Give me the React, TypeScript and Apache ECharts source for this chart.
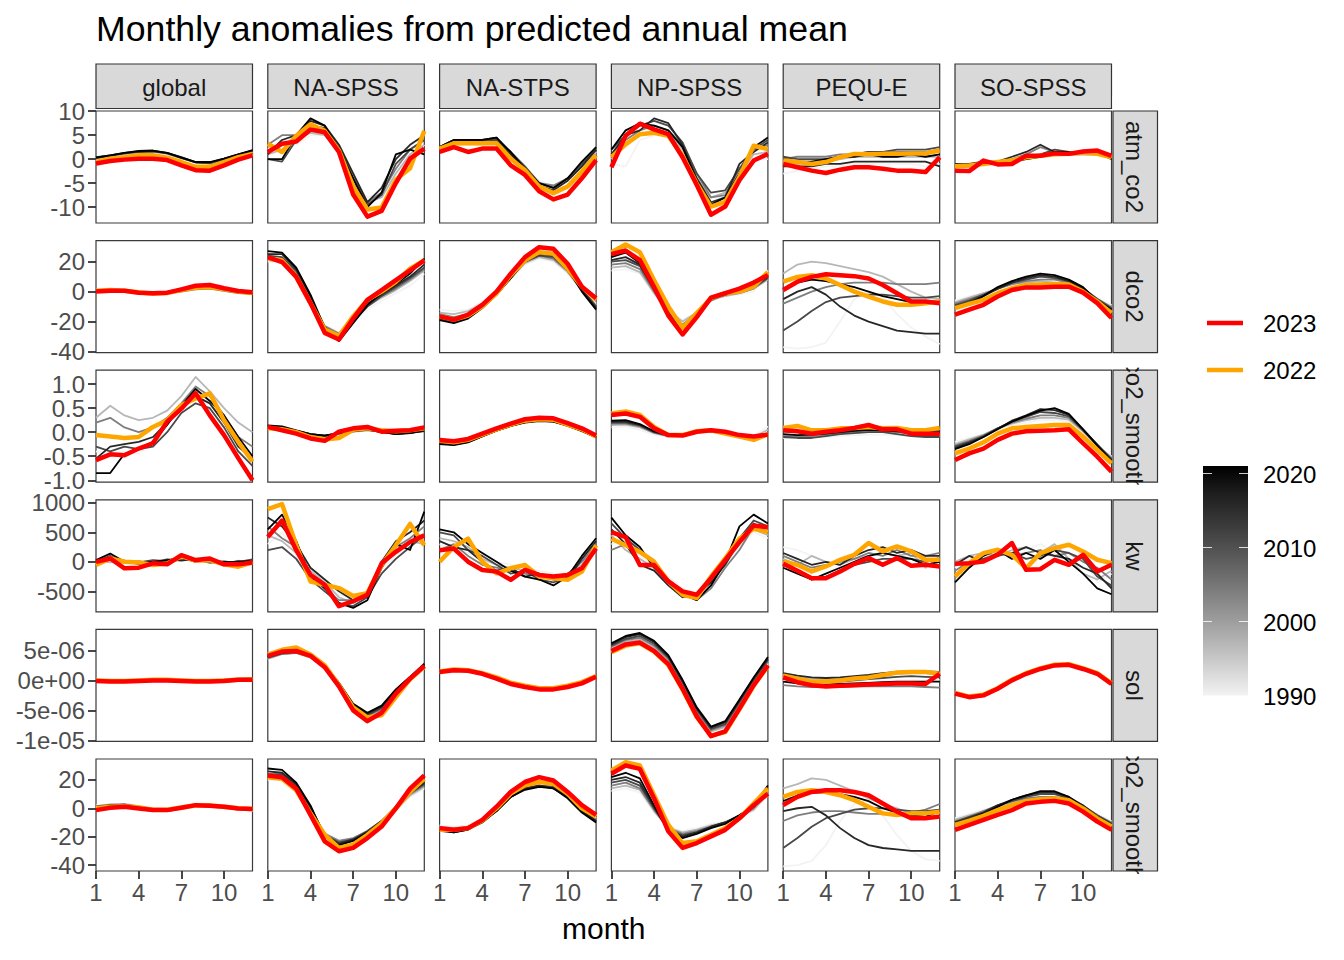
import React, { useEffect, useRef } from "react";
import * as echarts from "echarts";

// ---------------- data ----------------
const months = [1, 2, 3, 4, 5, 6, 7, 8, 9, 10, 11, 12];
const regions = ["global", "NA-SPSS", "NA-STPS", "NP-SPSS", "PEQU-E", "SO-SPSS"];
const variables = ["atm_co2", "dco2", "co2_smooth", "kw", "sol", "co2_smooth"];
// every panel array below holds one line per year, in this order
const lineYears = [1990, 1997, 2004, 2011, 2016, 2021, 2022, 2023];
const legendYears = [2023, 2022];
const colorbarTicks = [2020, 2010, 2000, 1990];
const xTicks = [1, 4, 7, 10];
const yTicksAtm = [-10, -5, 0, 5, 10];
const yTicksDco2 = [-40, -20, 0, 20];
const yTicksSmooth = [-1, -0.5, 0, 0.5, 1];
const yTicksKw = [-500, 0, 500, 1000];
const yTicksSol = [-1e-5, -5e-6, 0, 5e-6];
const yTicksSmooth2 = [-40, -20, 0, 20];

// row 1: atm_co2
const atm_global = [
  [0.2, 0.7, 1.1, 1.4, 1.5, 1.1, 0.2, -0.7, -0.8, -0.1, 0.8, 1.5],
  [0.1, 0.6, 1.0, 1.4, 1.5, 1.1, 0.2, -0.7, -0.9, -0.2, 0.8, 1.6],
  [0.3, 0.8, 1.2, 1.5, 1.6, 1.2, 0.3, -0.6, -0.8, -0.1, 0.9, 1.7],
  [0.2, 0.7, 1.2, 1.5, 1.7, 1.2, 0.2, -0.7, -0.9, 0.0, 0.9, 1.7],
  [0.4, 0.8, 1.3, 1.6, 1.7, 1.3, 0.4, -0.6, -0.7, 0.1, 1.0, 1.8],
  [0.3, 0.8, 1.3, 1.7, 1.8, 1.3, 0.3, -0.6, -0.6, 0.1, 1.0, 1.9],
  [-0.6, 0.1, 0.4, 0.8, 0.8, 0.3, -0.6, -1.6, -1.6, -0.6, 0.4, 1.1],
  [-0.9, -0.4, -0.1, 0.1, 0.1, -0.2, -1.3, -2.3, -2.4, -1.3, -0.1, 0.8],
];
const atm_naspss = [
  [2, 4, 3, 5, 5, 1, -5, -8, -7, -4, 0, 3],
  [1, 2, 4, 5.5, 5, 1.5, -5, -9, -8, -3, 1, 3],
  [3, 5, 5, 6, 6, 2, -4, -9, -7, -2, 2, 4],
  [0, -0.5, 4, 7, 6.5, 2.5, -4, -9.5, -7.5, -1, 2, 4],
  [1, 4, 5, 8, 7, 3, -3, -9, -6, 0, 3, 5],
  [0, 0, 5, 8.5, 7, 2, -4, -10, -7, 1, 2, 1],
  [3.2, 1.5, 4.9, 7.3, 5.9, 1.8, -5.7, -10.5, -10.1, -4.3, -1.9, 5.9],
  [1.5, 3.2, 3.7, 6.2, 5.6, 1.5, -7.4, -12.0, -10.8, -5.0, 0.1, 2.2],
];
const atm_nastps = [
  [2, 3, 3, 3, 3.5, 1, -2, -4.5, -5.5, -4, -1, 1.5],
  [2.5, 3.5, 3.5, 3.5, 3.5, 1, -2, -5, -6, -4.5, -1.5, 1.5],
  [2, 3.5, 3.5, 4, 4, 1, -2, -5, -5.5, -4, -1, 2],
  [2.5, 4, 4, 4, 4, 1.5, -1.5, -5, -6, -4, -1, 2],
  [2.5, 4, 4, 4, 4.5, 1, -2, -5.5, -6.5, -4.5, -1.5, 2],
  [2.5, 4, 4, 4, 4.5, 1.5, -2, -5, -6, -4, -0.5, 2.5],
  [2.2, 3.3, 3.3, 3.3, 3.3, 0.1, -2.3, -5.7, -7.1, -5.7, -2.6, 0.8],
  [1.5, 2.5, 1.5, 2.2, 2.2, -1.3, -3.3, -6.7, -8.4, -7.4, -4.0, -0.2],
];
const atm_npspss = [
  [-1, -1.5, 4, 5, 5, 1, -5, -8, -8, -4, 0, 0],
  [0, 3, 5, 6, 5.5, 2, -4, -8, -7, -3, 1, 1.5],
  [1, 4, 6, 7, 6, 3, -3, -8, -7.5, -2, 2, 3],
  [2, 5, 7, 8, 7, 3.5, -3, -7, -6.5, -2, 2, 4],
  [1, 5, 6, 8.5, 7.5, 3, -4, -9, -8, -1, 1.5, 3.5],
  [2, 6, 7.5, 7, 6, 2.5, -4.5, -9.5, -8, -3, 2.5, 4.5],
  [0.4, 3.1, 5.2, 5.5, 4.9, 0.7, -5.1, -9.9, -8.9, -3.7, 2.8, 2.1],
  [-1.7, 4.9, 7.4, 6.2, 5.2, 0.4, -5.4, -11.6, -9.9, -4.4, -0.3, 1.1],
];
const atm_pequ = [
  [-3, -2.5, -2, -1.5, -1.5, -1, -1, -1, -1, -1, -1.5, -1],
  [-1, -1, -0.5, -0.5, 0, 0.5, 0.5, 0.5, 0.5, 0.5, 0.5, 0.5],
  [0, 0.5, 0.5, 0.5, 1, 1, 1.5, 1.5, 1.5, 1.5, 1.5, 2],
  [0.5, 0, 0, 0, 0.5, 1, 1.5, 1.5, 2, 2, 2, 2.5],
  [-1.5, -1.5, -1.5, -1, -1, -0.5, -0.5, -0.5, -0.5, -0.5, -0.5, -1.5],
  [0, -0.5, -0.5, 0, 0.5, 0.5, 1, 0.5, 0.5, 1, 0.5, 1],
  [-0.3, -0.6, -1.0, -0.6, 0.4, 1.1, 1.0, 1.1, 1.1, 1.2, 1.2, 1.8],
  [-1.0, -1.7, -2.4, -2.9, -2.2, -1.7, -1.7, -2.0, -2.4, -2.4, -2.7, 0.4],
];
const atm_sospss = [
  [-1, -1, -0.5, -0.5, 0, 0.5, 1, 1, 1, 1.5, 1, 0.5],
  [-1.5, -1.5, -1, -1, -0.5, 0, 0.5, 1, 1, 1, 1, 0.5],
  [-1, -1, -1, -0.5, 0, 1, 2.5, 1.5, 1, 1, 1, 0.5],
  [-1.5, -1, -1, -1, -0.5, 0.5, 1, 2, 1.5, 1.5, 1.5, 0.5],
  [-1, -1, -0.5, -0.5, 0.5, 1.5, 3, 1.5, 1.5, 1.5, 1.5, 1],
  [-1.5, -1.5, -1, -1, -0.5, 0, 0.5, 1.5, 1.5, 1.5, 1.5, 0],
  [-1.5, -1.3, -1.0, -0.6, -0.3, 0.4, 0.7, 1.0, 1.1, 1.4, 1.1, 0.4],
  [-2.4, -2.5, -0.3, -1.1, -1.0, 0.7, 0.7, 1.2, 1.1, 1.6, 1.8, 0.7],
];

// row 2: dco2
const dco2_global = [
  [0, 1, 0.5, -1, -1.5, -1, 0.5, 2, 2, 0.5, -1, -1.5],
  [0.5, 1, 0.5, -0.5, -1, -1, 0.5, 2, 2, 1, -0.5, -1],
  [0, 0.5, 0.5, -0.5, -1.5, -1, 0, 1.5, 2, 0.5, -1, -1.5],
  [0.5, 1.5, 1, -0.5, -1, -0.5, 1, 2.5, 2.5, 1, -0.5, -1],
  [0, 1, 1, 0, -1, -0.5, 1, 2.5, 3, 1.5, 0, -1],
  [0.5, 1, 1, -0.5, -1.5, -1, 0.5, 2, 2.5, 1, -0.5, -1.5],
  [0.5, 1, 0.5, -0.5, -1.5, -1, 1, 2.5, 3, 1.5, 0, -1],
  [0, 0.6, 0.6, -0.7, -1.1, -0.7, 1.5, 3.9, 4.4, 2.2, 0.4, -0.5],
];
const dco2_naspss = [
  [20, 19, 10, -5, -22, -27, -20, -12, -6, -1, 4, 12],
  [21, 20, 12, -6, -24, -29, -19, -10, -4, 1, 7, 14],
  [22, 21, 13, -5, -23, -28, -18, -9, -3, 2, 8, 15],
  [24, 23, 14, -4, -24, -30, -20, -10, -3, 3, 9, 16],
  [25, 25, 15, -3, -25, -31, -19, -8, -2, 4, 10, 18],
  [27, 26, 16, -2, -24, -33, -21, -9, -1, 5, 12, 22],
  [22, 20.8, 9.8, -7.7, -25.3, -29.7, -16.5, -5.5, 0, 6.5, 15.3, 20.8],
  [23, 19.7, 9.8, -7.7, -27.5, -31.9, -18, -5.5, 1, 7.6, 14.2, 20.8],
];
const dco2_nastps = [
  [-12, -13, -12, -7, -2, 8, 18, 22, 20, 12, 0, -8],
  [-14, -15, -13, -8, -2, 9, 19, 23, 21, 13, 1, -9],
  [-15, -17, -15, -9, -1, 10, 20, 24, 22, 14, 1, -10],
  [-16, -18, -16, -9, -1, 10, 20, 24, 23, 14, 2, -10],
  [-18, -20, -17, -10, -2, 9, 20, 25, 24, 15, 1, -11],
  [-19, -21, -18, -11, -2, 9, 21, 26, 25, 15, 0, -12],
  [-16.5, -18.7, -16, -9.9, -1.1, 11, 20.8, 26.3, 25.2, 15.3, 3.3, -5.5],
  [-16.5, -18.7, -15.4, -8.8, 0, 12, 23, 29.6, 28.5, 18.6, 3.3, -4.4],
];
const dco2_npspss = [
  [14, 15, 12, -2, -12, -19, -14, -6, -3, -2, 0, 14],
  [16, 17, 13, -1, -13, -20, -14, -5, -3, -1, 2, 8],
  [18, 19, 15, 0, -14, -22, -15, -6, -2, -1, 2, 9],
  [20, 21, 17, 1, -15, -23, -16, -5, -2, 0, 3, 9],
  [21, 23, 18, 2, -14, -24, -15, -4, -1, 0, 4, 10],
  [23, 26, 19, 2, -16, -25, -17, -5, -2, 1, 5, 11],
  [26.3, 31.4, 26.3, 7.6, -9.9, -24.2, -14.3, -4.4, -1.1, 0, 3.3, 13.1],
  [25, 27.4, 21, 3, -16, -28.6, -17, -4, -1, 2, 6, 11],
];
const dco2_pequ = [
  [-37, -38, -37, -34, -20, -5, 0, -4, -15, -24, -30, -35],
  [12, 18, 20, 19, 17, 15, 13, 10, 5, 0, -4, -5],
  [-8, -4, 0, 3, 5, 6, 6, 6, 5, 5, 5, 6],
  [-26, -20, -13, -7, -4, -3, -2, -2, -3, -4, -4, -3],
  [-5, 0, 3, -2, -10, -16, -20, -23, -26, -27, -28, -28],
  [2, 6, 8, 7, 5, 3, 0, -3, -5, -7, -8, -7],
  [6.6, 9.8, 10.9, 8.7, 4.4, 0, -3.3, -6.6, -8.8, -8.8, -7.7, -6.6],
  [1.1, 6.6, 9.8, 11.6, 10.9, 10.3, 8.7, 4.4, -1.1, -6.6, -6.6, -7.7],
];
const dco2_sospss = [
  [-6, -3, -1, 1, 4, 5, 6, 6, 4, 1, -4, -9],
  [-7, -4, -1, 2, 5, 6, 7, 6, 5, 1, -5, -10],
  [-8, -5, -2, 2, 5, 7, 8, 8, 6, 2, -5, -11],
  [-9, -6, -2, 2, 6, 8, 10, 9, 7, 2, -5, -11],
  [-10, -7, -3, 2, 6, 9, 11, 10, 7, 2, -6, -12],
  [-11, -8, -3, 3, 7, 10, 12, 11, 8, 3, -6, -12],
  [-11, -8.2, -5.5, -1.1, 2.2, 4.4, 4.8, 5, 4.8, 0, -6.6, -14.3],
  [-15.4, -12.1, -8.8, -3.3, 1.1, 2.8, 2.8, 3.3, 3.3, -0.7, -7.7, -17.6],
];

// row 3: co2_smooth (upper)
const smooth_global = [
  [-0.4, -0.45, -0.4, -0.45, -0.2, 0.15, 0.55, 0.75, 0.5, 0.1, -0.3, -0.6],
  [0.3, 0.55, 0.35, 0.25, 0.3, 0.45, 0.75, 1.15, 0.85, 0.5, 0.2, 0.0],
  [0.2, 0.3, 0.1, 0.0, 0.1, 0.3, 0.6, 0.95, 0.75, 0.35, -0.1, -0.3],
  [-0.3, -0.4, -0.3, -0.35, -0.3, 0.0, 0.4, 0.6, 0.5, 0.1, -0.4, -0.7],
  [-0.55, -0.3, -0.25, -0.2, -0.1, 0.2, 0.5, 0.75, 0.6, 0.2, -0.3, -0.55],
  [-0.85, -0.85, -0.45, -0.35, -0.2, 0.15, 0.55, 0.9, 0.65, 0.35, -0.1, -0.5],
  [-0.06, -0.09, -0.12, -0.1, 0.11, 0.25, 0.56, 0.7, 0.81, 0.25, -0.2, -0.61],
  [-0.58, -0.46, -0.48, -0.34, -0.23, 0.22, 0.49, 0.81, 0.35, -0.06, -0.54, -1.0],
];
const smooth_naspss = [
  [0.08, 0.06, 0.0, -0.05, -0.08, -0.05, 0.0, 0.03, 0.02, 0.0, 0.02, 0.04],
  [0.1, 0.07, 0.01, -0.06, -0.09, -0.04, 0.01, 0.04, 0.02, -0.01, 0.0, 0.03],
  [0.11, 0.08, 0.02, -0.05, -0.08, -0.03, 0.02, 0.05, 0.01, -0.02, -0.01, 0.02],
  [0.12, 0.09, 0.03, -0.04, -0.07, -0.03, 0.02, 0.05, 0.0, -0.03, -0.02, 0.03],
  [0.13, 0.1, 0.03, -0.04, -0.07, -0.02, 0.03, 0.06, 0.01, -0.04, -0.01, 0.03],
  [0.14, 0.12, 0.04, -0.04, -0.07, -0.02, 0.03, 0.06, 0.0, -0.04, -0.02, 0.04],
  [0.08, 0.06, 0.0, -0.1, -0.15, -0.12, 0.05, 0.08, 0.04, 0.02, 0.04, 0.08],
  [0.11, 0.04, -0.03, -0.13, -0.18, 0.01, 0.08, 0.11, 0.01, 0.03, 0.04, 0.1],
];
const smooth_nastps = [
  [-0.18, -0.2, -0.15, -0.05, 0.05, 0.15, 0.23, 0.26, 0.25, 0.16, 0.05, -0.08],
  [-0.2, -0.22, -0.17, -0.06, 0.05, 0.14, 0.22, 0.25, 0.24, 0.15, 0.04, -0.09],
  [-0.21, -0.23, -0.18, -0.07, 0.04, 0.14, 0.22, 0.24, 0.23, 0.15, 0.04, -0.09],
  [-0.22, -0.25, -0.2, -0.08, 0.04, 0.13, 0.21, 0.24, 0.23, 0.14, 0.03, -0.1],
  [-0.23, -0.26, -0.2, -0.08, 0.03, 0.13, 0.21, 0.24, 0.22, 0.14, 0.03, -0.1],
  [-0.25, -0.27, -0.21, -0.09, 0.03, 0.13, 0.2, 0.23, 0.22, 0.13, 0.02, -0.11],
  [-0.18, -0.21, -0.16, -0.05, 0.06, 0.16, 0.24, 0.27, 0.26, 0.16, 0.06, -0.09],
  [-0.16, -0.19, -0.14, -0.03, 0.08, 0.18, 0.27, 0.3, 0.29, 0.19, 0.08, -0.07],
];
const smooth_npspss = [
  [0.1, 0.12, 0.05, -0.05, -0.1, -0.08, -0.02, 0.0, -0.03, -0.05, -0.08, 0.12],
  [0.15, 0.16, 0.1, -0.02, -0.08, -0.07, 0.0, 0.02, -0.02, -0.06, -0.1, 0.05],
  [0.18, 0.18, 0.12, -0.01, -0.08, -0.06, 0.01, 0.04, -0.01, -0.05, -0.1, -0.02],
  [0.2, 0.2, 0.14, 0.0, -0.07, -0.05, 0.02, 0.05, 0.0, -0.05, -0.12, -0.05],
  [0.22, 0.22, 0.15, 0.01, -0.06, -0.05, 0.02, 0.04, -0.01, -0.06, -0.11, -0.06],
  [0.24, 0.25, 0.17, 0.02, -0.06, -0.04, 0.03, 0.05, 0.0, -0.06, -0.13, -0.07],
  [0.39, 0.43, 0.36, 0.11, -0.06, -0.06, 0.02, 0.04, -0.03, -0.09, -0.16, -0.04],
  [0.36, 0.39, 0.32, 0.08, -0.06, -0.07, 0.01, 0.04, 0.01, -0.06, -0.09, -0.05],
];
const smooth_pequ = [
  [-0.12, -0.12, -0.1, -0.1, -0.08, -0.06, -0.05, -0.05, -0.06, -0.08, -0.08, -0.08],
  [-0.05, -0.08, -0.06, -0.05, -0.03, 0.0, 0.02, 0.02, 0.0, -0.02, -0.02, -0.03],
  [-0.08, -0.1, -0.08, -0.05, -0.02, 0.02, 0.04, 0.03, 0.0, -0.03, -0.05, -0.05],
  [-0.1, -0.12, -0.12, -0.08, -0.04, -0.02, 0.0, 0.0, -0.04, -0.08, -0.1, -0.1],
  [0.02, 0.0, -0.02, 0.0, 0.03, 0.05, 0.08, 0.08, 0.06, 0.03, 0.02, 0.02],
  [-0.04, -0.06, -0.05, -0.03, 0.0, 0.03, 0.05, 0.04, 0.02, 0.0, -0.02, -0.01],
  [0.09, 0.13, 0.04, 0.04, 0.08, 0.09, 0.11, 0.08, 0.09, 0.04, 0.04, 0.09],
  [0.04, 0.02, -0.03, 0.01, 0.04, 0.09, 0.15, 0.06, 0.06, -0.03, -0.03, -0.03],
];
const smooth_sospss = [
  [-0.2, -0.12, -0.05, 0.05, 0.15, 0.2, 0.25, 0.25, 0.22, 0.0, -0.3, -0.5],
  [-0.25, -0.15, -0.05, 0.08, 0.18, 0.25, 0.3, 0.3, 0.26, 0.02, -0.28, -0.52],
  [-0.28, -0.18, -0.07, 0.08, 0.2, 0.28, 0.35, 0.35, 0.3, 0.03, -0.27, -0.55],
  [-0.3, -0.2, -0.08, 0.08, 0.22, 0.32, 0.42, 0.4, 0.33, 0.05, -0.26, -0.56],
  [-0.33, -0.22, -0.1, 0.07, 0.24, 0.35, 0.48, 0.46, 0.36, 0.06, -0.26, -0.58],
  [-0.35, -0.25, -0.1, 0.06, 0.22, 0.34, 0.45, 0.5, 0.38, 0.06, -0.28, -0.6],
  [-0.44, -0.34, -0.21, -0.03, 0.08, 0.11, 0.13, 0.15, 0.15, -0.09, -0.37, -0.65],
  [-0.58, -0.44, -0.34, -0.16, -0.03, 0.02, 0.03, 0.04, 0.06, -0.23, -0.51, -0.82],
];

// row 4: kw
const kw_global = [
  [-30, 20, -20, -40, 20, -20, 50, 0, 40, -10, -50, 10],
  [20, -10, 10, -30, -20, 30, 60, 20, 0, -40, 20, -20],
  [-50, 60, -10, 10, -30, -10, 40, 40, -20, 10, -30, 30],
  [10, 100, -20, -10, 30, 10, 70, 0, 30, -20, 0, 40],
  [-20, 40, 20, -40, -10, 40, 20, 50, 20, -30, 10, 0],
  [30, 140, 0, -20, 0, 20, 80, 30, 10, 0, -10, 20],
  [-54, 57, 2, -10, -54, -30, 96, 20, 30, -43, -82, -10],
  [0, 57, -110, -99, -26, -43, 113, 30, 57, -43, -43, -10],
];
const kw_naspss = [
  [300, 500, 100, -250, -400, -550, -600, -500, -150, 100, 300, 350],
  [450, 350, 150, -150, -350, -600, -700, -550, -100, 200, 350, 300],
  [600, 400, 250, -200, -450, -650, -650, -600, -50, 250, 400, 600],
  [200, 250, 50, -300, -500, -700, -750, -600, -200, 50, 250, 450],
  [750, 600, 300, -100, -300, -500, -650, -550, 0, 350, 500, 700],
  [550, 800, 350, -250, -450, -700, -780, -650, -100, 300, 200, 850],
  [895, 978, 281, -333, -389, -445, -578, -530, -54, 281, 643, 281],
  [420, 699, 197, -222, -389, -752, -668, -557, -26, 169, 336, 448],
];
const kw_nastps = [
  [300, 200, 150, 100, 0, -50, -100, -150, -200, -250, -100, 200],
  [400, 350, 250, 50, -50, -100, -150, -200, -250, -200, -50, 250],
  [200, 300, 100, -50, -100, -150, -200, -250, -300, -200, 0, 300],
  [500, 450, 200, 100, -50, -200, -150, -300, -350, -250, -100, 200],
  [350, 250, 200, 0, -150, -100, -250, -200, -300, -300, 50, 350],
  [550, 500, 300, 150, 0, -150, -250, -300, -400, -250, 100, 400],
  [2, 253, 392, 2, -194, -110, -54, -250, -278, -305, -166, 281],
  [197, 225, 2, -138, -166, -305, -138, -222, -250, -222, -110, 225],
];
const kw_npspss = [
  [300, 350, 100, -50, -250, -450, -550, -350, -50, 250, 500, 400],
  [450, 200, 50, -100, -300, -500, -600, -400, 0, 300, 550, 450],
  [200, 300, 150, 0, -350, -550, -650, -450, -100, 200, 600, 500],
  [650, 400, 200, -50, -300, -500, -600, -300, 50, 400, 700, 600],
  [550, 300, -50, -150, -400, -600, -550, -350, -50, 350, 650, 500],
  [750, 450, 250, -100, -350, -550, -650, -400, 0, 600, 800, 650],
  [392, 281, 169, 2, -333, -557, -612, -250, 57, 392, 560, 504],
  [504, 420, -54, -54, -333, -501, -557, -278, 30, 336, 615, 587],
];
const kw_pequ = [
  [250, 200, 100, 0, 0, 50, 100, 150, 100, 100, 50, 50],
  [50, -50, 100, 0, -50, 50, 100, 150, 100, 150, -100, 100],
  [100, 0, -100, -50, 0, 50, 150, 100, 200, 100, 100, 150],
  [-50, -150, -300, -250, -150, -50, 0, 50, 50, 50, 0, 50],
  [150, 50, -50, 0, -50, 100, 200, 250, 150, 200, 100, 100],
  [-100, -200, -300, -200, -100, 0, 100, 150, 100, 50, -50, 0],
  [6, -51, -164, -79, 34, 119, 318, 176, 261, 176, 34, 34],
  [-34, -150, -277, -277, -164, -34, 63, -51, 63, -68, -51, -79],
];
const kw_sospss = [
  [-100, 50, 100, 150, 250, 200, 300, 150, 300, 100, -350, -200],
  [0, 100, 150, 100, 200, 250, 150, 300, 50, -200, -300, -150],
  [-150, 0, 50, 150, 100, 150, 200, 100, 150, 0, -100, -300],
  [-250, -50, 50, 100, 150, 50, 100, 200, 150, 50, -250, -400],
  [-50, 100, 0, 150, 150, 250, 150, 100, 50, -100, -200, -450],
  [-350, -100, 100, 200, 50, 150, 50, 200, 0, -200, -450, -550],
  [-249, -23, 148, 204, 119, -108, 148, 233, 289, 176, 34, -23],
  [-34, -23, 6, 119, 318, -136, -125, 34, -51, 119, -164, -51],
];

// row 5: sol, in units of 1e-06
const sol_global = [
  [0.1, 0.0, -0.1, 0.0, 0.1, 0.1, 0.0, -0.1, -0.1, 0.0, 0.1, 0.2],
  [0.0, -0.1, -0.1, 0.0, 0.1, 0.1, 0.0, -0.1, -0.1, 0.0, 0.1, 0.1],
  [0.0, -0.1, -0.2, -0.1, 0.0, 0.1, 0.0, -0.1, -0.2, -0.1, 0.1, 0.1],
  [-0.1, -0.1, -0.1, 0.0, 0.1, 0.1, 0.0, -0.1, -0.1, 0.0, 0.1, 0.1],
  [-0.1, -0.2, -0.2, -0.1, 0.0, 0.0, 0.0, -0.1, -0.2, -0.1, 0.0, 0.1],
  [-0.1, -0.2, -0.2, -0.1, 0.0, 0.1, 0.0, -0.2, -0.2, -0.1, 0.0, 0.1],
  [0.0, -0.1, -0.1, 0.0, 0.1, 0.1, 0.0, -0.1, -0.1, 0.0, 0.1, 0.2],
  [-0.1, -0.2, -0.2, -0.1, 0.0, 0.0, -0.1, -0.2, -0.2, -0.1, 0.1, 0.1],
];
const sol_naspss = [
  [3.5, 4.3, 4.5, 3.7, 1.9, -1.2, -4.8, -6.2, -5.0, -2.3, 0.0, 2.0],
  [3.6, 4.4, 4.6, 3.8, 2.0, -1.1, -4.7, -6.0, -5.0, -2.2, 0.1, 2.1],
  [3.7, 4.4, 4.6, 3.9, 2.1, -0.9, -4.5, -5.9, -4.8, -2.0, 0.2, 2.2],
  [3.8, 4.5, 4.7, 4.0, 2.3, -0.8, -4.3, -5.8, -4.6, -1.8, 0.4, 2.4],
  [3.9, 4.6, 4.8, 4.2, 2.4, -0.6, -4.1, -5.6, -4.4, -1.6, 0.5, 2.6],
  [4.0, 4.7, 4.9, 4.4, 2.6, -0.4, -3.9, -5.4, -4.2, -1.5, 0.6, 2.8],
  [4.3, 5.1, 5.5, 4.3, 2.5, -0.8, -4.5, -6.2, -5.8, -2.8, 0.2, 2.3],
  [4.1, 4.8, 4.9, 4.1, 2.2, -1.0, -5.0, -6.8, -5.4, -2.2, 0.3, 2.4],
];
const sol_nastps = [
  [1.3, 1.6, 1.6, 1.1, 0.4, -0.4, -1.0, -1.4, -1.4, -1.0, -0.4, 0.5],
  [1.3, 1.6, 1.5, 1.1, 0.4, -0.5, -1.1, -1.4, -1.5, -1.1, -0.4, 0.5],
  [1.4, 1.7, 1.6, 1.2, 0.4, -0.5, -1.1, -1.5, -1.5, -1.1, -0.5, 0.5],
  [1.4, 1.7, 1.6, 1.2, 0.4, -0.5, -1.1, -1.5, -1.5, -1.1, -0.5, 0.6],
  [1.5, 1.8, 1.7, 1.2, 0.5, -0.4, -1.0, -1.4, -1.4, -1.0, -0.4, 0.6],
  [1.5, 1.8, 1.7, 1.3, 0.5, -0.4, -1.0, -1.4, -1.4, -1.0, -0.4, 0.7],
  [1.5, 1.8, 1.7, 1.2, 0.5, -0.4, -0.9, -1.3, -1.3, -0.9, -0.3, 0.7],
  [1.4, 1.7, 1.6, 1.1, 0.3, -0.6, -1.1, -1.5, -1.5, -1.1, -0.5, 0.6],
];
const sol_npspss = [
  [5.0, 6.0, 6.4, 5.2, 3.2, -0.9, -5.5, -8.7, -8.0, -4.3, -0.5, 2.8],
  [5.3, 6.4, 6.8, 5.5, 3.4, -0.7, -5.3, -8.5, -7.8, -4.1, -0.3, 3.0],
  [5.6, 6.7, 7.1, 5.8, 3.6, -0.5, -5.1, -8.3, -7.5, -3.8, -0.1, 3.2],
  [5.8, 6.9, 7.4, 6.1, 3.8, -0.3, -4.9, -8.1, -7.3, -3.6, 0.1, 3.4],
  [6.0, 7.2, 7.7, 6.4, 4.0, -0.1, -4.7, -7.9, -7.0, -3.4, 0.3, 3.6],
  [6.2, 7.4, 7.9, 6.6, 4.2, 0.1, -4.5, -7.7, -6.8, -3.2, 0.5, 3.9],
  [4.7, 5.8, 6.2, 4.8, 2.6, -1.5, -6.1, -9.2, -8.6, -4.8, -0.9, 2.4],
  [4.9, 6.0, 6.3, 4.9, 2.7, -1.4, -6.0, -9.3, -8.5, -4.7, -0.8, 2.5],
];
const sol_pequ = [
  [0.0, -0.3, -0.5, -0.5, -0.4, -0.3, -0.2, -0.1, 0.0, 0.0, 0.0, 0.1],
  [1.0, 0.6, 0.3, 0.2, 0.3, 0.5, 0.7, 0.9, 1.1, 1.2, 1.2, 1.1],
  [-0.8, -1.0, -1.1, -1.1, -1.1, -1.0, -1.0, -1.0, -1.0, -1.0, -1.1, -1.2],
  [0.5, 0.0, -0.3, -0.3, -0.2, 0.0, 0.2, 0.4, 0.6, 0.7, 0.6, 0.5],
  [1.2, 0.8, 0.5, 0.4, 0.5, 0.7, 0.9, 1.2, 1.4, 1.5, 1.5, 1.4],
  [-0.2, -0.5, -0.7, -0.7, -0.6, -0.5, -0.4, -0.3, -0.2, -0.2, -0.2, -0.2],
  [0.8, 0.3, -0.2, -0.2, 0.0, 0.3, 0.5, 0.9, 1.3, 1.4, 1.4, 1.1],
  [0.5, -0.3, -0.8, -1.0, -0.9, -0.8, -0.7, -0.6, -0.5, -0.5, -0.6, 1.1],
];
const sol_sospss = [
  [-2.0, -2.6, -2.4, -1.4, -0.1, 1.0, 1.8, 2.3, 2.5, 1.9, 1.0, -0.5],
  [-2.1, -2.7, -2.4, -1.4, -0.1, 1.1, 1.9, 2.4, 2.6, 1.9, 1.0, -0.5],
  [-2.1, -2.7, -2.5, -1.4, 0.0, 1.1, 1.9, 2.4, 2.6, 2.0, 1.1, -0.5],
  [-2.2, -2.8, -2.5, -1.5, 0.0, 1.1, 2.0, 2.5, 2.6, 2.0, 1.1, -0.6],
  [-2.2, -2.8, -2.5, -1.5, 0.0, 1.2, 2.0, 2.5, 2.7, 2.0, 1.1, -0.6],
  [-2.2, -2.8, -2.6, -1.5, 0.0, 1.2, 2.0, 2.6, 2.7, 2.1, 1.2, -0.6],
  [-2.1, -2.7, -2.4, -1.3, 0.1, 1.2, 2.0, 2.6, 2.7, 2.0, 1.2, -0.5],
  [-2.2, -2.8, -2.5, -1.4, 0.0, 1.1, 1.9, 2.5, 2.6, 1.9, 1.1, -0.6],
];
const SOL_UNIT = 1e-6;

// row 6: co2_smooth (lower)
const smooth2_global = [
  [2, 3, 3, 1, -1, -1, 0, 1, 1, 0, -1, -2],
  [1, 2.5, 3, 1.5, -0.5, -1, 0.5, 1.5, 1.5, 0.5, -1, -1.5],
  [1.5, 2.5, 2.5, 1, -1, -1.5, 0, 1.5, 2, 1, -0.5, -1],
  [0.5, 2, 2, 0.5, -1.5, -1.5, 0.5, 2, 2, 1, 0, -0.5],
  [1, 2, 2.5, 1, -1, -1, 0.5, 2.5, 2.5, 1.5, 0, -1],
  [0, 1.5, 2, 0.5, -1.5, -2, 0, 2, 2.5, 1, -0.5, -1],
  [0, 1, 1.5, 0.5, -1, -1, 0.5, 2, 2, 1, 0, -0.5],
  [-1.3, 0.3, 1.1, -0.1, -1.3, -1.3, 0.3, 2.2, 1.8, 1.1, -0.1, -0.6],
];
const smooth2_naspss = [
  [20, 20, 12, -3, -17, -22, -21, -17, -10, -2, 8, 14],
  [21, 21, 13, -2, -18, -23, -22, -17, -10, -1, 9, 15],
  [23, 22, 14, -1, -18, -23, -21, -16, -9, 0, 10, 16],
  [24, 24, 16, 0, -19, -24, -22, -16, -9, 0, 11, 17],
  [26, 25, 17, 1, -19, -25, -22, -17, -9, 1, 11, 18],
  [28, 27, 18, 2, -20, -26, -23, -17, -10, 1, 12, 19],
  [21.9, 20.8, 12.7, -3.6, -18.7, -27.9, -25.6, -18.7, -10.5, -0.1, 11.5, 20.8],
  [23.1, 21.9, 13.8, -4.7, -23.3, -30.3, -27.9, -21, -12.9, -0.1, 13.8, 23.1],
];
const smooth2_nastps = [
  [-12, -13, -12, -7, -1, 8, 13, 15, 14, 8, -1, -7],
  [-13, -14, -13, -8, -1, 8, 14, 16, 14, 8, -1, -8],
  [-14, -15, -13, -8, -1, 9, 14, 16, 15, 9, -1, -8],
  [-15, -16, -14, -9, -2, 8, 14, 16, 15, 8, -2, -9],
  [-15, -17, -15, -9, -2, 8, 14, 16, 14, 8, -2, -9],
  [-16, -17, -15, -10, -2, 8, 13, 15, 14, 7, -3, -10],
  [-15.2, -15.2, -14, -8.7, -0.1, 10.3, 16.1, 18.5, 17.3, 10.3, -0.1, -5.9],
  [-14, -15.2, -14, -8.2, 1.1, 11.5, 18.5, 21.9, 19.6, 11.5, 2.2, -4.7],
];
const smooth2_npspss = [
  [12, 14, 11, -3, -13, -16, -14, -11, -9, -6, -2, 9],
  [14, 16, 13, -2, -14, -17, -15, -12, -10, -6, -1, 10],
  [16, 18, 14, -1, -14, -18, -16, -13, -10, -6, 0, 11],
  [18, 20, 16, 0, -15, -19, -17, -13, -10, -5, 1, 13],
  [20, 22, 18, 1, -15, -20, -17, -13, -10, -5, 1, 14],
  [22, 25, 21, 2, -16, -21, -18, -14, -11, -5, 2, 16],
  [26.6, 32.4, 30.1, 9.2, -11.7, -24.5, -23.3, -18.7, -14, -7.1, 3.4, 13.8],
  [24.3, 30.1, 27.7, 6.9, -16.3, -27.9, -24.5, -19.8, -15.2, -7.1, 2.2, 10.3],
];
const smooth2_pequ = [
  [-41, -40, -37, -26, -9, 3, 6, -5, -19, -30, -36, -37],
  [14, 17, 21, 20, 16, 12, 7, 3, 0, -4, -6, -6],
  [-9, -5, -3, -2, -2, -3, -4, -4, -4, -3, -1, 3],
  [-28, -21, -13, -7, -4, -1, 0, 0, -1, -2, -2, -1],
  [-2, 0, 1, -5, -14, -21, -26, -28, -29, -30, -30, -30],
  [5, 9, 11, 11, 10, 8, 5, 0, -3, -5, -6, -2],
  [8.0, 11.5, 12.7, 11.5, 9.2, 5.7, 1.1, -3.6, -4.7, -3.6, -3.6, -2.4],
  [2.2, 8.0, 11.5, 12.7, 12.7, 11.5, 9.2, 3.4, -2.4, -7.1, -7.1, -5.9],
];
const smooth2_sospss = [
  [-7, -4, -1, 1, 3, 5, 6, 6, 5, 1, -4, -9],
  [-8, -5, -2, 1, 4, 6, 7, 7, 5, 1, -5, -10],
  [-9, -6, -2, 2, 5, 7, 8, 8, 6, 1, -5, -10],
  [-10, -6, -3, 2, 5, 8, 10, 10, 7, 2, -5, -11],
  [-10, -7, -3, 2, 6, 9, 11, 11, 8, 2, -6, -11],
  [-11, -8, -4, 1, 6, 9, 12, 12, 8, 1, -6, -12],
  [-11.7, -8.7, -5.4, -1.3, 2.2, 5.0, 6.4, 6.9, 5.7, -0.1, -7.1, -12.9],
  [-15.2, -11.7, -8.2, -4.7, -1.3, 3.4, 4.5, 5.2, 3.4, -2.4, -9.4, -15.2],
];

const panelData = [
  [atm_global, atm_naspss, atm_nastps, atm_npspss, atm_pequ, atm_sospss],
  [dco2_global, dco2_naspss, dco2_nastps, dco2_npspss, dco2_pequ, dco2_sospss],
  [smooth_global, smooth_naspss, smooth_nastps, smooth_npspss, smooth_pequ, smooth_sospss],
  [kw_global, kw_naspss, kw_nastps, kw_npspss, kw_pequ, kw_sospss],
  [sol_global, sol_naspss, sol_nastps, sol_npspss, sol_pequ, sol_sospss],
  [smooth2_global, smooth2_naspss, smooth2_nastps, smooth2_npspss, smooth2_pequ, smooth2_sospss],
];
const rowScale = [1, 1, 1, 1, SOL_UNIT, 1];
const rowTicks = [yTicksAtm, yTicksDco2, yTicksSmooth, yTicksKw, yTicksSol, yTicksSmooth2];
const rowMin = [-13.33, -40.67, -1.04, -847, -10.17e-6, -44.2];
const rowMax = [10.05, 34.0, 1.29, 1051, 8.5e-6, 34.7];

// ---------------- layout / style ----------------
const FONT = "'Liberation Sans', Arial, Helvetica, sans-serif";
const PL = 96, PW = 156.5, CS = 171.8;
const PT = 111, PH = 112, RS = 129.6;
const STRIP = 44.5;
const HIGHLIGHT: Record<number, string> = { 2022: "#FFA500", 2023: "#FF0000" };
const TITLE = "Monthly anomalies from predicted annual mean";

function greyForYear(year: number): string {
  const t = Math.min(1, Math.max(0, (year - 1990) / 31));
  const L = 96 * (1 - t);
  const fy = (L + 16) / 116;
  const Y = L > 8 ? fy * fy * fy : L / 903.3;
  const c = Y <= 0.0031308 ? 12.92 * Y : 1.055 * Math.pow(Y, 1 / 2.4) - 0.055;
  const v = Math.round(Math.max(0, Math.min(1, c)) * 255);
  const h = v.toString(16).padStart(2, "0");
  return `#${h}${h}${h}`;
}

function sciLabel(v: number): string {
  if (Math.abs(v) < 1e-15) return "0e+00";
  const e = Math.floor(Math.log10(Math.abs(v)) + 1e-9);
  const m = Math.round((v / Math.pow(10, e)) * 10) / 10;
  const es = String(Math.abs(e)).padStart(2, "0");
  return `${m}e${e < 0 ? "-" : "+"}${es}`;
}

const rowFormatter = [
  (v: number) => String(v),
  (v: number) => String(v),
  (v: number) => v.toFixed(1),
  (v: number) => String(v),
  (v: number) => sciLabel(v),
  (v: number) => String(v),
];

function buildOption() {
  const grid: any[] = [];
  const xAxis: any[] = [];
  const yAxis: any[] = [];
  const series: any[] = [];
  const graphic: any[] = [];
  const tickStyle = { color: "#333333", width: 1.8 };

  for (let r = 0; r < variables.length; r++) {
    for (let c = 0; c < regions.length; c++) {
      const k = r * regions.length + c;
      grid.push({
        left: PL + c * CS,
        top: PT + r * RS,
        width: PW,
        height: PH,
        show: true,
        borderColor: "#3a3a3a",
        borderWidth: 1.2,
        backgroundColor: "#ffffff",
        containLabel: false,
        outerBoundsMode: "none",
      });
      xAxis.push({
        type: "value",
        gridIndex: k,
        position: "bottom",
        min: 1,
        max: 12,
        axisLine: { show: false, onZero: false },
        splitLine: { show: false },
        axisTick: { show: r === variables.length - 1, customValues: xTicks, length: 8, lineStyle: tickStyle },
        axisLabel: {
          show: r === variables.length - 1,
          customValues: xTicks,
          color: "#4D4D4D",
          fontSize: 24,
          lineHeight: 20,
          fontFamily: FONT,
          margin: 11,
        },
      });
      yAxis.push({
        type: "value",
        gridIndex: k,
        position: "left",
        min: rowMin[r],
        max: rowMax[r],
        axisLine: { show: false, onZero: false },
        splitLine: { show: false },
        axisTick: { show: c === 0, customValues: rowTicks[r], length: 8, lineStyle: tickStyle },
        axisLabel: {
          show: c === 0,
          customValues: rowTicks[r],
          formatter: rowFormatter[r],
          color: "#4D4D4D",
          fontSize: 24,
          lineHeight: 20,
          fontFamily: FONT,
          margin: 11,
        },
      });
      const lines = panelData[r][c];
      lineYears.forEach((year, li) => {
        const hl = HIGHLIGHT[year];
        series.push({
          type: "line",
          xAxisIndex: k,
          yAxisIndex: k,
          data: months.map((m, i) => [m, lines[li][i] * rowScale[r]]),
          symbol: "none",
          showSymbol: false,
          silent: true,
          clip: true,
          z: hl ? 3 + li : 2,
          lineStyle: {
            color: hl || greyForYear(year),
            width: hl ? 4.5 : 1.8,
            join: "round",
            cap: "butt",
          },
          emphasis: { disabled: true },
        });
      });
    }
  }

  // title
  graphic.push({
    type: "text",
    x: PL,
    y: 29,
    style: { text: TITLE, fontSize: 35.7, fontFamily: FONT, fill: "#000000", align: "left", verticalAlign: "middle" },
  });
  // top strips
  regions.forEach((name, c) => {
    const x = PL + c * CS;
    graphic.push({
      type: "rect",
      shape: { x, y: 64, width: PW, height: STRIP },
      style: { fill: "#D9D9D9", stroke: "#333333", lineWidth: 1.2 },
      z: 1,
    });
    graphic.push({
      type: "text",
      x: x + PW / 2,
      y: 64 + STRIP / 2 + 1,
      style: { text: name, fontSize: 24, fontFamily: FONT, fill: "#1A1A1A", align: "center", verticalAlign: "middle" },
      z: 2,
    });
  });
  // right strips
  const sx = PL + 5 * CS + PW + 1.5;
  variables.forEach((name, r) => {
    const y = PT + r * RS;
    graphic.push({
      type: "rect",
      shape: { x: sx, y, width: STRIP, height: PH },
      style: { fill: "#D9D9D9", stroke: "#333333", lineWidth: 1.2 },
      z: 1,
    });
    graphic.push({
      type: "text",
      x: sx + STRIP / 2 - 1,
      y: y + PH / 2,
      rotation: -Math.PI / 2,
      style: { text: name, fontSize: 24, fontFamily: FONT, fill: "#1A1A1A", align: "center", verticalAlign: "middle" },
      z: 2,
    });
  });
  // clip strip labels that are longer than the strip
  variables.forEach((_n, r) => {
    const y = PT + r * RS;
    graphic.push({
      type: "rect",
      shape: { x: sx - 0.5, y: y - 15, width: STRIP + 2, height: 12 },
      style: { fill: "#ffffff" },
      z: 5,
    });
    graphic.push({
      type: "rect",
      shape: { x: sx - 0.5, y: y + PH + 3, width: STRIP + 2, height: 12 },
      style: { fill: "#ffffff" },
      z: 5,
    });
  });
  // x axis title
  graphic.push({
    type: "text",
    x: PL + (5 * CS + PW) / 2,
    y: 928,
    style: { text: "month", fontSize: 30, fontFamily: FONT, fill: "#000000", align: "center", verticalAlign: "middle" },
  });
  // legend: highlighted years
  legendYears.forEach((year, i) => {
    const y = 323 + i * 47;
    graphic.push({
      type: "line",
      shape: { x1: 1207, y1: y, x2: 1243, y2: y },
      style: { stroke: HIGHLIGHT[year], lineWidth: 4.5 },
    });
    graphic.push({
      type: "text",
      x: 1263,
      y,
      style: { text: String(year), fontSize: 24, fontFamily: FONT, fill: "#000000", align: "left", verticalAlign: "middle" },
    });
  });
  // colour bar
  const yearToY = (yr: number) => 473.5 + (2020 - yr) * 7.4;
  const barTop = yearToY(2021);
  const barBot = yearToY(1990);
  const stops: any[] = [];
  for (let s = 0; s <= 8; s++) {
    const yr = 2021 - (31 * s) / 8;
    stops.push({ offset: s / 8, color: greyForYear(yr) });
  }
  graphic.push({
    type: "rect",
    shape: { x: 1203, y: barTop, width: 45, height: barBot - barTop },
    style: { fill: new echarts.graphic.LinearGradient(0, 0, 0, 1, stops) },
  });
  colorbarTicks.forEach((yr) => {
    const y = yearToY(yr);
    if (yr > 1990) {
      graphic.push({ type: "line", shape: { x1: 1203, y1: y, x2: 1212, y2: y }, style: { stroke: "#ffffff", lineWidth: 1, opacity: 0.8 }, z: 3 });
      graphic.push({ type: "line", shape: { x1: 1239, y1: y, x2: 1248, y2: y }, style: { stroke: "#ffffff", lineWidth: 1, opacity: 0.8 }, z: 3 });
    }
    graphic.push({
      type: "text",
      x: 1263,
      y: y + 1,
      style: { text: String(yr), fontSize: 24, fontFamily: FONT, fill: "#000000", align: "left", verticalAlign: "middle" },
    });
  });

  return {
    animation: false,
    backgroundColor: "#ffffff",
    textStyle: { fontFamily: FONT },
    grid,
    xAxis,
    yAxis,
    series,
    graphic,
  };
}

export default function App() {
  const ref = useRef<HTMLDivElement>(null);
  useEffect(() => {
    if (!ref.current) return;
    const chart = echarts.init(ref.current, undefined, { renderer: "svg" });
    chart.setOption(buildOption());
    return () => chart.dispose();
  }, []);
  return (
    <div
      ref={ref}
      style={{ position: "absolute", left: 0, top: 0, width: 1344, height: 960, background: "#ffffff" }}
    />
  );
}
